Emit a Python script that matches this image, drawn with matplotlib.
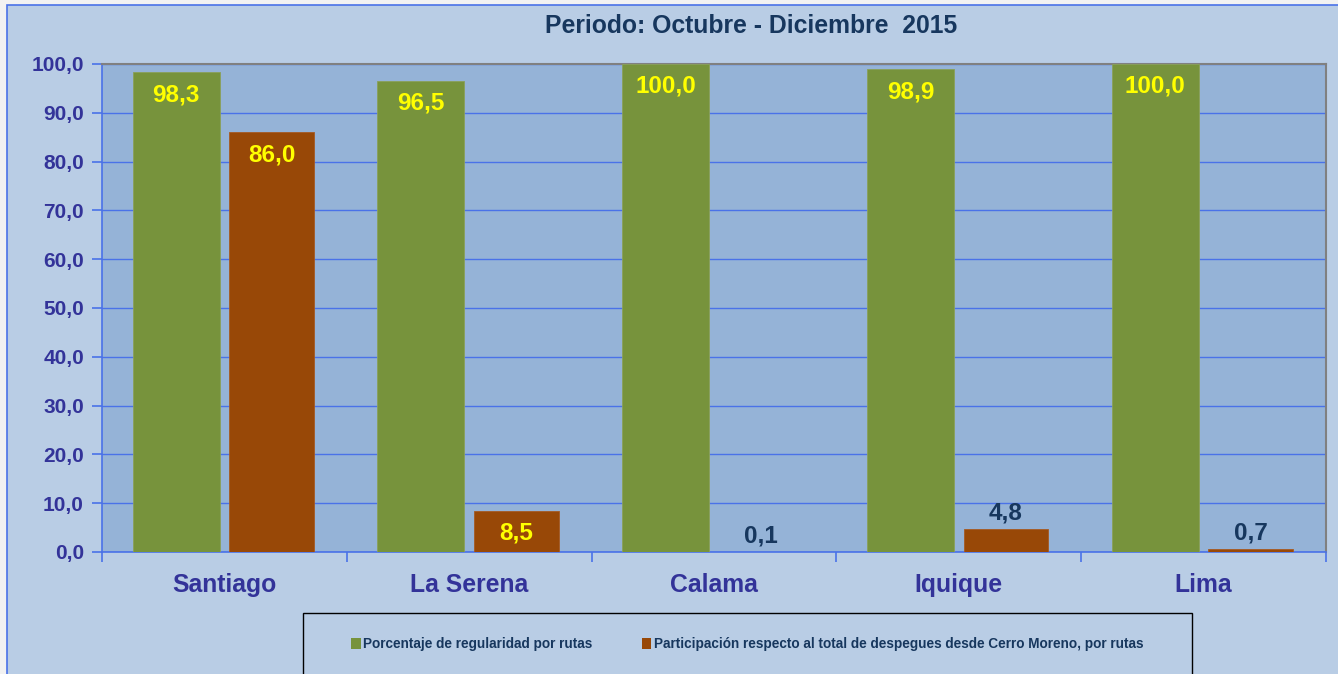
import matplotlib.pyplot as plt
import numpy as np
from matplotlib.patches import Rectangle

plt.rcParams['font.family'] = ['Liberation Sans', 'DejaVu Sans']

categories = ['Santiago', 'La Serena', 'Calama', 'Iquique', 'Lima']
regularidad = [98.3, 96.5, 100.0, 98.9, 100.0]
participacion = [86.0, 8.5, 0.1, 4.8, 0.7]
series_names = ['Porcentaje de regularidad por rutas',
                'Participación respecto al total de despegues desde Cerro Moreno, por rutas']
title = 'Periodo: Octubre - Diciembre  2015'

green = '#77933C'
brown = '#984807'
navy = '#17375E'
tick_blue = '#333399'
grid_blue = '#4A72E8'
W, H = 1338, 674

fig = plt.figure(figsize=(W / 100, H / 100), dpi=100)
fig.patch.set_facecolor('#F2F2F2')
# chart area background with blue frame
fig.patches.append(Rectangle((7 / W, -0.01), 1.0, 1 - 5 / H + 0.01, transform=fig.transFigure,
                             facecolor='#B9CDE5', edgecolor=grid_blue, linewidth=1.2, zorder=-10))
# legend box
fig.patches.append(Rectangle((303 / W, -0.01), 889 / W, (674 - 613) / H + 0.01, transform=fig.transFigure,
                             facecolor='none', edgecolor='black', linewidth=1.0, zorder=-5))

ax = fig.add_axes([102 / W, 1 - 552 / H, 1224 / W, 488 / H])
ax.set_facecolor('#95B3D7')

x = np.arange(len(categories))
w1, w2 = 0.355, 0.345
gap = 0.04
b1 = ax.bar(x - gap / 2 - w1 / 2, regularidad, w1, color=green, edgecolor='#8AA05A', linewidth=0.6, zorder=3)
b2 = ax.bar(x + gap / 2 + w2 / 2, participacion, w2, color=brown, edgecolor='#A65A22', linewidth=0.6, zorder=3)

ax.set_xlim(-0.5, len(categories) - 0.5)
ax.set_ylim(0, 100)
ax.set_yticks(np.arange(0, 101, 10))
ax.set_yticklabels([f'{v:.1f}'.replace('.', ',') for v in np.arange(0, 101, 10)])
ax.yaxis.grid(True, color=grid_blue, linewidth=1.0, zorder=1)
ax.set_axisbelow(True)

# category labels centered, ticks at boundaries
ax.set_xticks(np.arange(-0.5, len(categories)), minor=False)
ax.set_xticklabels([])
ax.set_xticks(x, minor=True)
ax.set_xticklabels(categories, minor=True, fontsize=17.8, fontweight='bold', color=tick_blue)
ax.tick_params(axis='x', which='minor', length=0, pad=15)
ax.tick_params(axis='x', which='major', length=7, color=grid_blue, width=1.2)
ax.tick_params(axis='y', length=7, color=grid_blue, width=1.2, labelsize=15,
               labelcolor=tick_blue, pad=6)
for lab in ax.get_yticklabels():
    lab.set_fontweight('bold')

for side in ['top', 'right']:
    ax.spines[side].set_color('#808080')
    ax.spines[side].set_linewidth(1.5)
for side in ['left', 'bottom']:
    ax.spines[side].set_color(grid_blue)
    ax.spines[side].set_linewidth(1.2)


def fmt(v):
    return f'{v:.1f}'.replace('.', ',')


for bars, vals in [(b1, regularidad), (b2, participacion)]:
    for rect, v in zip(bars, vals):
        cx = rect.get_x() + rect.get_width() / 2
        if v > 7:
            ax.annotate(fmt(v), (cx, v), xytext=(0, -16), textcoords='offset points',
                        ha='center', va='center', fontsize=17.5, fontweight='bold',
                        color='#FFFF00', zorder=5)
        else:
            ax.annotate(fmt(v), (cx, v), xytext=(0, 11), textcoords='offset points',
                        ha='center', va='center', fontsize=17.5, fontweight='bold',
                        color=navy, zorder=5)

fig.text(751 / W, 1 - 26 / H, title, ha='center', va='center', fontsize=17.8,
         fontweight='bold', color=navy)

handles = [Rectangle((0, 0), 1, 1, facecolor=green), Rectangle((0, 0), 1, 1, facecolor=brown)]
leg = fig.legend(handles, series_names, loc='center left', ncol=2,
                 bbox_to_anchor=(351 / W, 1 - 644 / H), fontsize=9.8, frameon=False,
                 handlelength=0.7, handleheight=0.9, handletextpad=0.2, columnspacing=3.6,
                 borderaxespad=0, borderpad=0)
for t in leg.get_texts():
    t.set_color(navy)
    t.set_fontweight('bold')

fig.savefig('out.png', dpi=100, facecolor=fig.get_facecolor())
